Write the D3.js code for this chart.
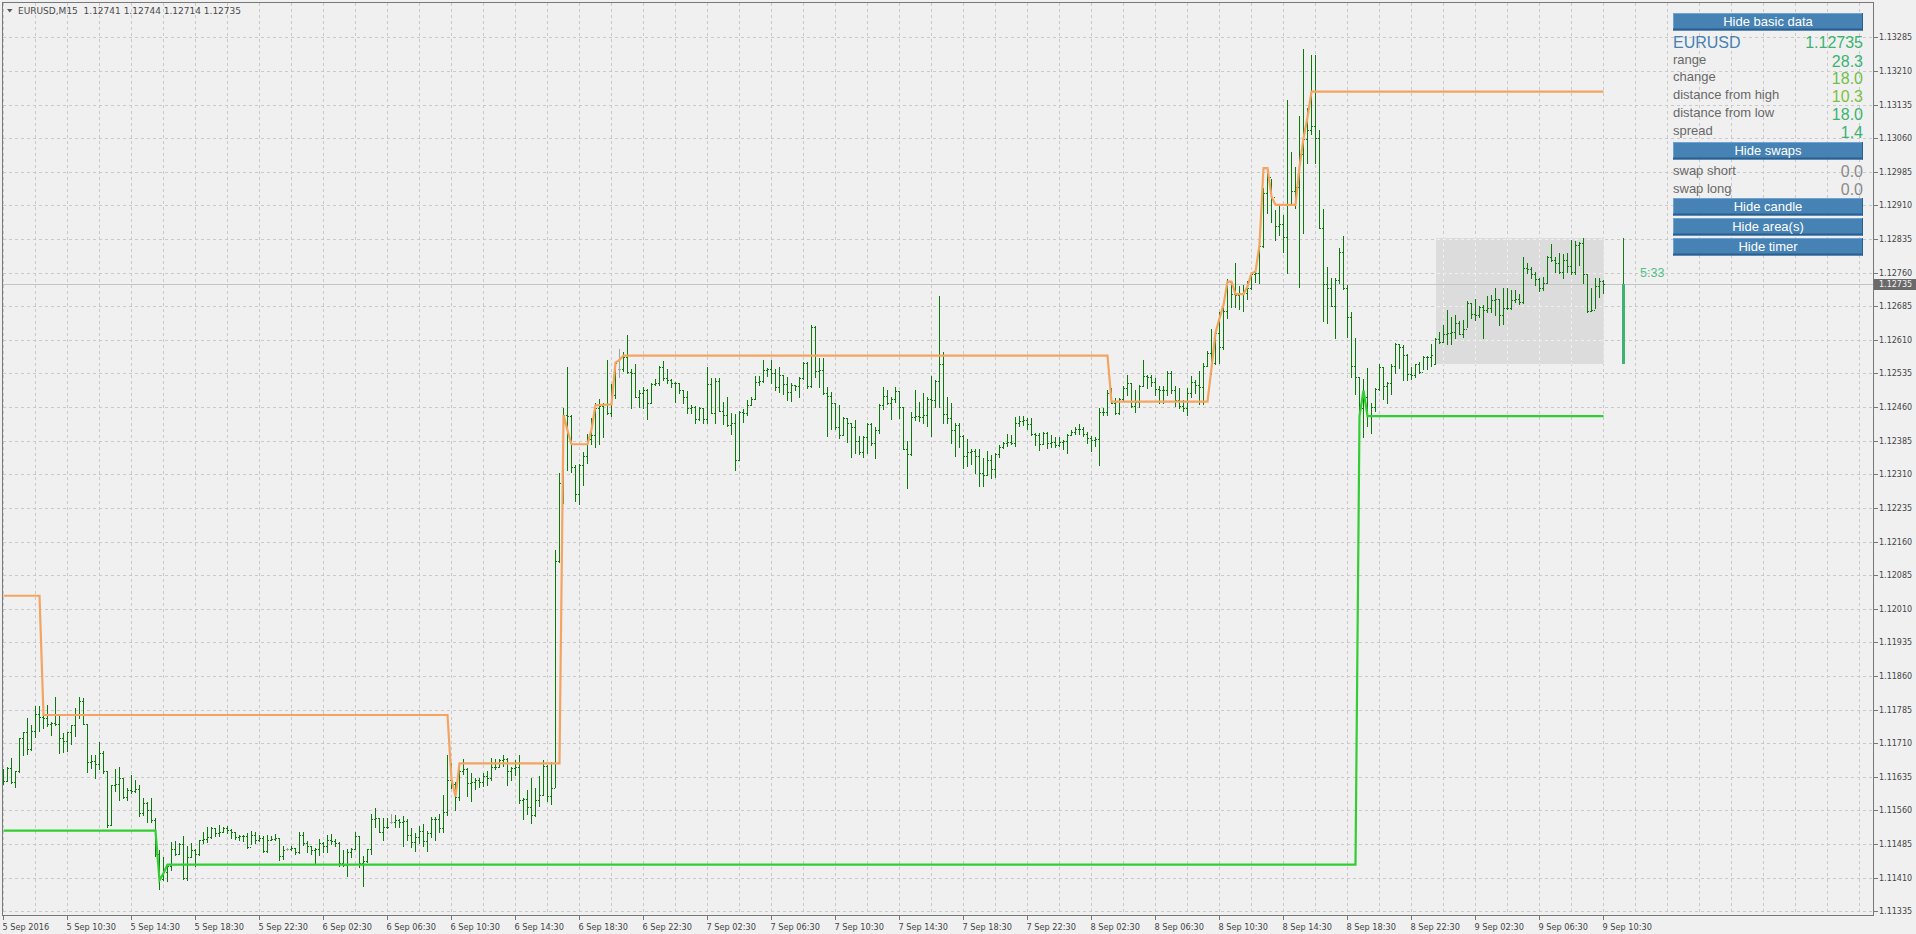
<!DOCTYPE html>
<html><head><meta charset="utf-8">
<script src="https://cdn.jsdelivr.net/npm/d3@7/dist/d3.min.js"></script>
<style>html,body{margin:0;padding:0;background:#f0f0f0;overflow:hidden}</style>
</head><body>
<svg id="chart" width="1916" height="934"></svg>
<script>
// ---------------- data ----------------
const symbolTitle = "EURUSD,M15  1.12741 1.12744 1.12714 1.12735";
const timeLabels = ["5 Sep 2016","5 Sep 10:30","5 Sep 14:30","5 Sep 18:30","5 Sep 22:30","6 Sep 02:30","6 Sep 06:30","6 Sep 10:30","6 Sep 14:30","6 Sep 18:30","6 Sep 22:30","7 Sep 02:30","7 Sep 06:30","7 Sep 10:30","7 Sep 14:30","7 Sep 18:30","7 Sep 22:30","8 Sep 02:30","8 Sep 06:30","8 Sep 10:30","8 Sep 14:30","8 Sep 18:30","8 Sep 22:30","9 Sep 02:30","9 Sep 06:30","9 Sep 10:30"];
const timeLabelBars = [0,16,32,48,64,80,96,112,128,144,160,176,192,208,224,240,256,272,288,304,320,336,352,368,384,400];
const priceTicks = [1.11335,1.11410,1.11485,1.11560,1.11635,1.11710,1.11785,1.11860,1.11935,1.12010,1.12085,1.12160,1.12235,1.12310,1.12385,1.12460,1.12535,1.12610,1.12685,1.12760,1.12835,1.12910,1.12985,1.13060,1.13135,1.13210,1.13285];

const barOpen = [
1.11640,1.11625,1.11654,1.11623,1.11647,1.11721,1.11735,1.11697,1.11737,1.11776,1.11768,1.11766,1.11754,1.11755,1.11752,1.11721,
1.11714,1.11734,1.11751,1.11773,1.11805,1.11752,1.11669,1.11671,1.11664,1.11688,1.11647,1.11528,1.11617,1.11620,1.11632,1.11590,
1.11606,1.11604,1.11608,1.11554,1.11576,1.11561,1.11538,1.11463,1.11407,1.11422,1.11435,1.11474,1.11463,1.11486,1.11409,1.11456,
1.11472,1.11463,1.11494,1.11496,1.11500,1.11520,1.11509,1.11511,1.11520,1.11517,1.11511,1.11500,1.11502,1.11503,1.11478,1.11506,
1.11493,1.11498,1.11470,1.11494,1.11496,1.11498,1.11459,1.11474,1.11474,1.11476,1.11468,1.11506,1.11487,1.11480,1.11472,1.11474,
1.11487,1.11480,1.11494,1.11491,1.11487,1.11442,1.11439,1.11468,1.11474,1.11502,1.11442,1.11448,1.11474,1.11541,1.11543,1.11513,
1.11522,1.11535,1.11535,1.11539,1.11535,1.11537,1.11505,1.11490,1.11500,1.11515,1.11492,1.11510,1.11540,1.11541,1.11520,1.11557,
1.11629,1.11620,1.11589,1.11649,1.11652,1.11621,1.11623,1.11628,1.11624,1.11637,1.11632,1.11656,1.11658,1.11673,1.11674,1.11647,
1.11654,1.11658,1.11583,1.11585,1.11567,1.11550,1.11583,1.11595,1.11659,1.11592,1.11609,1.12116,1.12291,1.12442,1.12441,1.12327,
1.12267,1.12331,1.12351,1.12388,1.12397,1.12459,1.12462,1.12467,1.12446,1.12487,1.12546,1.12546,1.12572,1.12539,1.12537,1.12482,
1.12491,1.12498,1.12470,1.12511,1.12513,1.12550,1.12524,1.12520,1.12513,1.12514,1.12498,1.12483,1.12459,1.12461,1.12433,1.12457,
1.12433,1.12511,1.12447,1.12519,1.12452,1.12442,1.12420,1.12424,1.12343,1.12450,1.12447,1.12465,1.12479,1.12517,1.12519,1.12543,
1.12544,1.12537,1.12504,1.12531,1.12511,1.12494,1.12509,1.12507,1.12524,1.12559,1.12507,1.12638,1.12541,1.12543,1.12492,1.12485,
1.12470,1.12415,1.12398,1.12435,1.12425,1.12416,1.12385,1.12360,1.12394,1.12422,1.12380,1.12409,1.12465,1.12485,1.12470,1.12477,
1.12496,1.12461,1.12366,1.12355,1.12437,1.12440,1.12438,1.12442,1.12479,1.12476,1.12519,1.12556,1.12444,1.12435,1.12409,1.12420,
1.12395,1.12351,1.12360,1.12363,1.12351,1.12312,1.12308,1.12342,1.12321,1.12355,1.12370,1.12380,1.12383,1.12380,1.12425,1.12430,
1.12432,1.12422,1.12400,1.12398,1.12378,1.12403,1.12380,1.12383,1.12375,1.12383,1.12385,1.12398,1.12405,1.12412,1.12410,1.12401,
1.12390,1.12386,1.12388,1.12450,1.12448,1.12491,1.12470,1.12446,1.12478,1.12502,1.12513,1.12463,1.12472,1.12507,1.12530,1.12528,
1.12517,1.12500,1.12498,1.12497,1.12537,1.12498,1.12476,1.12463,1.12457,1.12491,1.12517,1.12510,1.12504,1.12552,1.12580,1.12559,
1.12625,1.12594,1.12675,1.12740,1.12712,1.12710,1.12712,1.12715,1.12725,1.12757,1.12760,1.12820,1.12938,1.12973,1.12928,1.12864,
1.12869,1.12840,1.12911,1.12943,1.12952,1.13025,1.13057,1.13078,1.13087,1.13060,1.12859,1.12735,1.12725,1.12686,1.12744,1.12807,
1.12725,1.12662,1.12552,1.12528,1.12457,1.12483,1.12440,1.12461,1.12500,1.12549,1.12507,1.12513,1.12552,1.12601,1.12595,1.12576,
1.12533,1.12531,1.12556,1.12539,1.12571,1.12572,1.12555,1.12611,1.12606,1.12623,1.12626,1.12628,1.12648,1.12624,1.12635,1.12693,
1.12667,1.12665,1.12684,1.12676,1.12682,1.12699,1.12700,1.12665,1.12682,1.12680,1.12699,1.12700,1.12695,1.12771,1.12769,1.12757,
1.12745,1.12725,1.12737,1.12795,1.12789,1.12782,1.12762,1.12788,1.12774,1.12762,1.12821,1.12826,1.12758,1.12675,1.12676,1.12730,1.12741];

const barHigh = [
1.11652,1.11658,1.11677,1.11649,1.11721,1.11736,1.11766,1.11751,1.11792,1.11792,1.11773,1.11796,1.11758,1.11814,1.11773,1.11732,
1.11735,1.11751,1.11788,1.11814,1.11810,1.11752,1.11684,1.11684,1.11712,1.11692,1.11647,1.11617,1.11653,1.11658,1.11632,1.11610,
1.11639,1.11628,1.11617,1.11587,1.11578,1.11587,1.11543,1.11472,1.11456,1.11439,1.11489,1.11491,1.11487,1.11503,1.11480,1.11487,
1.11474,1.11494,1.11513,1.11524,1.11524,1.11520,1.11528,1.11524,1.11526,1.11518,1.11513,1.11506,1.11506,1.11509,1.11515,1.11511,
1.11506,1.11503,1.11506,1.11503,1.11508,1.11498,1.11480,1.11476,1.11481,1.11476,1.11513,1.11511,1.11491,1.11481,1.11476,1.11496,
1.11489,1.11506,1.11508,1.11496,1.11490,1.11472,1.11474,1.11476,1.11513,1.11503,1.11459,1.11475,1.11552,1.11565,1.11543,1.11543,
1.11543,1.11551,1.11550,1.11541,1.11548,1.11540,1.11520,1.11510,1.11525,1.11530,1.11515,1.11545,1.11546,1.11552,1.11595,1.11684,
1.11665,1.11624,1.11665,1.11674,1.11655,1.11643,1.11632,1.11632,1.11643,1.11647,1.11676,1.11674,1.11674,1.11684,1.11676,1.11658,
1.11673,1.11684,1.11587,1.11606,1.11632,1.11609,1.11637,1.11673,1.11661,1.11669,1.12141,1.12312,1.12459,1.12550,1.12442,1.12331,
1.12333,1.12360,1.12401,1.12435,1.12468,1.12477,1.12468,1.12566,1.12511,1.12561,1.12589,1.12583,1.12621,1.12544,1.12556,1.12498,
1.12504,1.12500,1.12514,1.12522,1.12551,1.12563,1.12546,1.12522,1.12517,1.12514,1.12498,1.12496,1.12465,1.12462,1.12461,1.12457,
1.12549,1.12524,1.12524,1.12524,1.12472,1.12482,1.12446,1.12444,1.12452,1.12455,1.12476,1.12482,1.12529,1.12529,1.12566,1.12548,
1.12566,1.12544,1.12550,1.12531,1.12526,1.12514,1.12509,1.12526,1.12561,1.12561,1.12643,1.12640,1.12569,1.12569,1.12505,1.12494,
1.12470,1.12465,1.12437,1.12435,1.12425,1.12431,1.12395,1.12395,1.12424,1.12424,1.12415,1.12467,1.12505,1.12499,1.12482,1.12504,
1.12496,1.12461,1.12385,1.12450,1.12499,1.12472,1.12491,1.12483,1.12529,1.12520,1.12708,1.12583,1.12482,1.12468,1.12424,1.12425,
1.12398,1.12388,1.12366,1.12366,1.12366,1.12346,1.12361,1.12353,1.12358,1.12375,1.12383,1.12401,1.12398,1.12438,1.12440,1.12440,
1.12435,1.12435,1.12403,1.12403,1.12405,1.12405,1.12398,1.12394,1.12394,1.12386,1.12401,1.12409,1.12416,1.12422,1.12415,1.12405,
1.12395,1.12394,1.12457,1.12457,1.12498,1.12502,1.12480,1.12480,1.12507,1.12532,1.12513,1.12498,1.12509,1.12565,1.12532,1.12532,
1.12524,1.12506,1.12506,1.12541,1.12541,1.12506,1.12502,1.12475,1.12502,1.12530,1.12521,1.12541,1.12559,1.12584,1.12634,1.12626,
1.12671,1.12688,1.12745,1.12740,1.12782,1.12730,1.12733,1.12742,1.12759,1.12762,1.12822,1.12948,1.12983,1.12968,1.12900,1.12909,
1.12889,1.13144,1.13028,1.12996,1.13109,1.13258,1.13127,1.13246,1.13246,1.13078,1.12901,1.12772,1.12747,1.12747,1.12814,1.12842,
1.12733,1.12671,1.12614,1.12528,1.12522,1.12547,1.12470,1.12502,1.12556,1.12550,1.12517,1.12556,1.12602,1.12601,1.12598,1.12578,
1.12550,1.12557,1.12561,1.12574,1.12574,1.12600,1.12613,1.12628,1.12643,1.12676,1.12660,1.12665,1.12652,1.12655,1.12697,1.12693,
1.12700,1.12685,1.12688,1.12707,1.12710,1.12725,1.12700,1.12725,1.12725,1.12722,1.12721,1.12712,1.12795,1.12782,1.12772,1.12762,
1.12747,1.12751,1.12797,1.12823,1.12795,1.12803,1.12801,1.12804,1.12832,1.12831,1.12829,1.12838,1.12758,1.12725,1.12749,1.12747,1.12744];

const barLow = [
1.11619,1.11625,1.11622,1.11613,1.11645,1.11683,1.11686,1.11695,1.11723,1.11738,1.11743,1.11749,1.11729,1.11751,1.11689,1.11690,
1.11692,1.11709,1.11727,1.11766,1.11752,1.11645,1.11654,1.11632,1.11652,1.11643,1.11524,1.11527,1.11603,1.11584,1.11587,1.11584,
1.11599,1.11602,1.11547,1.11550,1.11535,1.11534,1.11459,1.11384,1.11405,1.11402,1.11428,1.11461,1.11463,1.11407,1.11404,1.11457,
1.11435,1.11461,1.11487,1.11489,1.11498,1.11503,1.11502,1.11511,1.11509,1.11498,1.11496,1.11494,1.11491,1.11476,1.11486,1.11487,
1.11491,1.11468,1.11468,1.11493,1.11493,1.11450,1.11451,1.11472,1.11471,1.11463,1.11465,1.11483,1.11468,1.11463,1.11442,1.11461,
1.11468,1.11468,1.11486,1.11480,1.11436,1.11435,1.11414,1.11457,1.11474,1.11434,1.11392,1.11446,1.11463,1.11524,1.11511,1.11495,
1.11520,1.11531,1.11522,1.11522,1.11480,1.11495,1.11478,1.11470,1.11488,1.11480,1.11470,1.11500,1.11494,1.11513,1.11513,1.11550,
1.11610,1.11561,1.11583,1.11641,1.11592,1.11582,1.11607,1.11612,1.11615,1.11617,1.11629,1.11652,1.11656,1.11659,1.11617,1.11628,
1.11640,1.11577,1.11541,1.11552,1.11533,1.11548,1.11570,1.11595,1.11580,1.11574,1.11613,1.12115,1.12245,1.12319,1.12316,1.12251,
1.12244,1.12286,1.12336,1.12377,1.12370,1.12377,1.12394,1.12444,1.12440,1.12480,1.12528,1.12540,1.12535,1.12457,1.12482,1.12461,
1.12457,1.12433,1.12470,1.12509,1.12509,1.12520,1.12514,1.12505,1.12472,1.12492,1.12468,1.12447,1.12447,1.12424,1.12431,1.12425,
1.12425,1.12446,1.12425,1.12452,1.12422,1.12418,1.12401,1.12320,1.12342,1.12427,1.12442,1.12465,1.12479,1.12509,1.12517,1.12529,
1.12514,1.12499,1.12494,1.12489,1.12476,1.12474,1.12498,1.12483,1.12522,1.12502,1.12504,1.12526,1.12505,1.12489,1.12395,1.12410,
1.12412,1.12392,1.12398,1.12383,1.12349,1.12358,1.12355,1.12349,1.12358,1.12375,1.12346,1.12403,1.12455,1.12467,1.12433,1.12472,
1.12435,1.12366,1.12279,1.12353,1.12432,1.12430,1.12425,1.12418,1.12395,1.12461,1.12461,1.12425,1.12425,1.12380,1.12351,1.12370,
1.12325,1.12328,1.12333,1.12312,1.12284,1.12284,1.12308,1.12301,1.12303,1.12349,1.12368,1.12373,1.12378,1.12373,1.12418,1.12420,
1.12410,1.12398,1.12375,1.12364,1.12378,1.12368,1.12370,1.12372,1.12373,1.12366,1.12358,1.12398,1.12401,1.12400,1.12395,1.12380,
1.12363,1.12373,1.12331,1.12443,1.12443,1.12469,1.12445,1.12444,1.12476,1.12487,1.12460,1.12448,1.12461,1.12506,1.12502,1.12506,
1.12487,1.12469,1.12469,1.12487,1.12491,1.12463,1.12457,1.12452,1.12443,1.12482,1.12491,1.12467,1.12467,1.12552,1.12534,1.12556,
1.12559,1.12590,1.12658,1.12684,1.12684,1.12678,1.12675,1.12701,1.12723,1.12738,1.12736,1.12818,1.12894,1.12874,1.12833,1.12844,
1.12807,1.12760,1.12911,1.12904,1.12727,1.12849,1.13004,1.13070,1.13005,1.12859,1.12651,1.12648,1.12685,1.12614,1.12736,1.12723,
1.12616,1.12528,1.12489,1.12443,1.12394,1.12417,1.12403,1.12452,1.12498,1.12478,1.12470,1.12489,1.12536,1.12547,1.12520,1.12520,
1.12522,1.12528,1.12537,1.12546,1.12544,1.12551,1.12555,1.12603,1.12606,1.12600,1.12600,1.12615,1.12624,1.12617,1.12638,1.12658,
1.12655,1.12662,1.12613,1.12673,1.12673,1.12665,1.12643,1.12645,1.12678,1.12678,1.12695,1.12690,1.12693,1.12760,1.12747,1.12732,
1.12719,1.12721,1.12736,1.12786,1.12762,1.12760,1.12747,1.12762,1.12758,1.12758,1.12777,1.12737,1.12673,1.12675,1.12680,1.12705,1.12714];

const barClose = [
1.11625,1.11654,1.11623,1.11647,1.11721,1.11735,1.11697,1.11737,1.11776,1.11768,1.11766,1.11754,1.11755,1.11752,1.11721,1.11714,
1.11734,1.11751,1.11773,1.11805,1.11752,1.11669,1.11671,1.11664,1.11688,1.11647,1.11528,1.11617,1.11620,1.11632,1.11590,1.11606,
1.11604,1.11608,1.11554,1.11576,1.11561,1.11538,1.11463,1.11407,1.11422,1.11435,1.11474,1.11463,1.11486,1.11409,1.11456,1.11472,
1.11463,1.11494,1.11496,1.11500,1.11520,1.11509,1.11511,1.11520,1.11517,1.11511,1.11500,1.11502,1.11503,1.11478,1.11506,1.11493,
1.11498,1.11470,1.11494,1.11496,1.11498,1.11459,1.11472,1.11474,1.11476,1.11468,1.11506,1.11487,1.11480,1.11472,1.11474,1.11487,
1.11480,1.11494,1.11491,1.11487,1.11442,1.11439,1.11468,1.11474,1.11502,1.11442,1.11448,1.11474,1.11541,1.11543,1.11513,1.11522,
1.11524,1.11535,1.11539,1.11535,1.11537,1.11505,1.11490,1.11500,1.11515,1.11492,1.11510,1.11540,1.11541,1.11520,1.11557,1.11629,
1.11620,1.11589,1.11649,1.11652,1.11621,1.11623,1.11628,1.11624,1.11637,1.11632,1.11656,1.11658,1.11673,1.11674,1.11647,1.11654,
1.11658,1.11583,1.11585,1.11567,1.11550,1.11583,1.11595,1.11659,1.11592,1.11609,1.12116,1.12291,1.12442,1.12441,1.12327,1.12267,
1.12331,1.12351,1.12388,1.12397,1.12459,1.12462,1.12467,1.12446,1.12487,1.12559,1.12546,1.12572,1.12539,1.12537,1.12482,1.12491,
1.12498,1.12470,1.12511,1.12513,1.12550,1.12524,1.12520,1.12513,1.12514,1.12498,1.12483,1.12459,1.12461,1.12433,1.12457,1.12433,
1.12511,1.12447,1.12519,1.12452,1.12442,1.12420,1.12424,1.12343,1.12450,1.12447,1.12465,1.12479,1.12517,1.12519,1.12543,1.12544,
1.12537,1.12504,1.12531,1.12511,1.12494,1.12509,1.12507,1.12524,1.12559,1.12507,1.12638,1.12541,1.12543,1.12492,1.12485,1.12470,
1.12415,1.12398,1.12435,1.12425,1.12416,1.12385,1.12360,1.12394,1.12422,1.12380,1.12409,1.12465,1.12485,1.12470,1.12477,1.12496,
1.12461,1.12366,1.12355,1.12437,1.12440,1.12438,1.12442,1.12479,1.12476,1.12519,1.12556,1.12444,1.12435,1.12409,1.12420,1.12395,
1.12351,1.12360,1.12363,1.12351,1.12312,1.12308,1.12342,1.12321,1.12355,1.12370,1.12380,1.12383,1.12380,1.12425,1.12430,1.12432,
1.12422,1.12400,1.12398,1.12378,1.12403,1.12380,1.12383,1.12375,1.12383,1.12385,1.12398,1.12405,1.12412,1.12410,1.12401,1.12390,
1.12386,1.12388,1.12450,1.12448,1.12491,1.12470,1.12446,1.12478,1.12502,1.12513,1.12463,1.12472,1.12507,1.12530,1.12528,1.12517,
1.12500,1.12498,1.12497,1.12537,1.12498,1.12476,1.12463,1.12457,1.12491,1.12517,1.12510,1.12504,1.12552,1.12580,1.12559,1.12625,
1.12594,1.12675,1.12740,1.12712,1.12710,1.12712,1.12715,1.12725,1.12757,1.12760,1.12820,1.12938,1.12973,1.12928,1.12864,1.12869,
1.12840,1.12911,1.12943,1.12952,1.13025,1.13057,1.13078,1.13087,1.13060,1.12859,1.12735,1.12725,1.12686,1.12744,1.12807,1.12725,
1.12662,1.12552,1.12528,1.12457,1.12483,1.12440,1.12461,1.12500,1.12549,1.12507,1.12513,1.12552,1.12601,1.12595,1.12576,1.12533,
1.12531,1.12556,1.12539,1.12571,1.12572,1.12576,1.12611,1.12606,1.12623,1.12626,1.12628,1.12648,1.12624,1.12635,1.12693,1.12667,
1.12665,1.12684,1.12676,1.12682,1.12699,1.12700,1.12665,1.12682,1.12680,1.12699,1.12700,1.12695,1.12771,1.12769,1.12757,1.12745,
1.12725,1.12737,1.12795,1.12789,1.12782,1.12762,1.12788,1.12774,1.12762,1.12821,1.12826,1.12758,1.12675,1.12676,1.12730,1.12742,1.12735];

// upper (orange) and lower (green) indicator lines: bar index -> price
const upperBars = [0,9,10,111,112,113,114,139,140,141,142,146,147,148,152,153,154,155,276,277,301,302,303,304,305,306,307,308,310,311,312,313,314,315,316,317,318,323,324,325,326,327,400];
const upperVals = [1.12039,1.12039,1.11773,1.11773,1.11630,1.11591,1.11665,1.11665,1.12442,1.12408,1.12377,1.12377,1.12410,1.12464,1.12466,1.12559,1.12565,1.12575,1.12575,1.12472,1.12472,1.12547,1.12626,1.12658,1.12688,1.12740,1.12740,1.12712,1.12712,1.12729,1.12759,1.12762,1.12822,1.12993,1.12993,1.12930,1.12911,1.12911,1.12996,1.13060,1.13106,1.13164,1.13164];
const lowerBars = [0,38,39,40,41,338,339,340,341,400];
const lowerVals = [1.11515,1.11515,1.11404,1.11420,1.11439,1.11439,1.12440,1.12497,1.12440,1.12440];

const bidPrice = 1.12735;
const dayCandle = {open:1.12555, high:1.12838, low:1.12555, close:1.12735};
const areaFromBar = 358, areaToBar = 400, candleBar = 405;
const timerText = "5:33";

const panelSymbol = "EURUSD", panelPrice = "1.12735";
const basicLabels = ["range","change","distance from high","distance from low","spread"];
const basicValues = ["28.3","18.0","10.3","18.0","1.4"];
const swapLabels = ["swap short","swap long"];
const swapValues = ["0.0","0.0"];
const buttonLabels = ["Hide basic data","Hide swaps","Hide candle","Hide area(s)","Hide timer"];

// ---------------- drawing ----------------
const svg = d3.select("#chart");
const FONT = "'DejaVu Sans', Verdana, sans-serif";
const PFONT = "'Liberation Sans', Arial, sans-serif";
const frame = {l:2.5, t:2.5, r:1873.5, b:915.5};

const x = d3.scaleLinear().domain([0, 405]).range([3.5, 1623.5]);
const y = d3.scaleLinear().domain([1.11335, 1.13285]).range([911.3, 37.3]);
const ry = v => Math.round(y(v)) + 0.5;

svg.append("rect").attr("width",1916).attr("height",934).attr("fill","#f0f0f0");

// grid
function drawGrid(g, color) {
  const vIdx = d3.range(0, 470, 8).filter(i => x(i) < frame.r - 1);
  g.selectAll("line.v").data(vIdx).join("line").attr("class","v")
    .attr("x1", i => x(i)).attr("x2", i => x(i)).attr("y1", 3).attr("y2", 915)
    .attr("stroke", color).attr("stroke-dasharray","3,3");
  g.selectAll("line.h").data(priceTicks).join("line").attr("class","h")
    .attr("x1", 3).attr("x2", frame.r - 0.5).attr("y1", d => ry(d)).attr("y2", d => ry(d))
    .attr("stroke", color).attr("stroke-dasharray","3,3");
}
drawGrid(svg.append("g").attr("shape-rendering","crispEdges"), "#c9c9c9");

// area (today's range)
const ax0 = x(areaFromBar), ax1 = x(areaToBar);
const ay0 = y(dayCandle.high), ay1 = y(dayCandle.low);
svg.append("rect").attr("x", ax0).attr("y", ay0).attr("width", ax1 - ax0).attr("height", ay1 - ay0)
  .attr("fill", "#dcdcdc").attr("shape-rendering","crispEdges");
svg.append("clipPath").attr("id","areaClip").append("rect")
  .attr("x", ax0).attr("y", ay0).attr("width", ax1 - ax0).attr("height", ay1 - ay0);
drawGrid(svg.append("g").attr("clip-path","url(#areaClip)").attr("shape-rendering","crispEdges"), "#efefef");

// bid line
svg.append("line").attr("x1",3).attr("x2",frame.r-0.5).attr("y1", ry(bidPrice)).attr("y2", ry(bidPrice))
  .attr("stroke","#c4c4c4").attr("shape-rendering","crispEdges");

// bars
const idx = d3.range(barClose.length);
const isDoji = i => Math.abs(barOpen[i] - barClose[i]) < 1e-7;
const barColor = i => isDoji(i) ? "#a0a0a0" : "#0a7a0a";
const gb = svg.append("g").attr("shape-rendering","crispEdges");
gb.selectAll("rect.hl").data(idx).join("rect").attr("class","hl")
  .attr("x", i => x(i) - 0.5).attr("width", 1)
  .attr("y", i => Math.round(y(barHigh[i])))
  .attr("height", i => Math.max(1, Math.round(y(barLow[i])) - Math.round(y(barHigh[i])) + 1))
  .attr("fill", barColor);
gb.selectAll("rect.o").data(idx).join("rect").attr("class","o")
  .attr("x", i => x(i) - 1.5).attr("width", 1).attr("y", i => Math.round(y(barOpen[i]))).attr("height", 1)
  .attr("fill", barColor);
gb.selectAll("rect.c").data(idx).join("rect").attr("class","c")
  .attr("x", i => x(i) + 0.5).attr("width", 1).attr("y", i => Math.round(y(barClose[i]))).attr("height", 1)
  .attr("fill", barColor);

// indicator lines
const lineGen = d3.line().x(d => x(d[0])).y(d => y(d[1]));
svg.append("path").datum(upperBars.map((b,k) => [b, upperVals[k]]))
  .attr("d", lineGen).attr("fill","none").attr("stroke","#f4a460").attr("stroke-width",2.2)
  .attr("stroke-linejoin","miter");
svg.append("path").datum(lowerBars.map((b,k) => [b, lowerVals[k]]))
  .attr("d", lineGen).attr("fill","none").attr("stroke","#32cd32").attr("stroke-width",2.2)
  .attr("stroke-linejoin","miter");

// day candle
const cx = x(candleBar);
svg.append("line").attr("x1", cx).attr("x2", cx).attr("y1", y(dayCandle.high)).attr("y2", y(dayCandle.close))
  .attr("stroke","#1a7a1a").attr("stroke-width",1).attr("shape-rendering","crispEdges");
svg.append("rect").attr("x", cx - 1.5).attr("width", 3)
  .attr("y", y(dayCandle.close)).attr("height", y(dayCandle.open) - y(dayCandle.close))
  .attr("fill","#3cb371").attr("shape-rendering","crispEdges");

// timer
svg.append("text").attr("x", 1640).attr("y", 277).text(timerText)
  .attr("font-family", PFONT).attr("font-size", 12.5).attr("fill", "#4fbf86");

// frame
svg.append("rect").attr("x", frame.l).attr("y", frame.t).attr("width", frame.r - frame.l).attr("height", frame.b - frame.t)
  .attr("fill","none").attr("stroke","#787878").attr("shape-rendering","crispEdges");

// price axis
const gp = svg.append("g");
gp.selectAll("line").data(priceTicks).join("line")
  .attr("x1", frame.r).attr("x2", frame.r + 4).attr("y1", d => ry(d)).attr("y2", d => ry(d))
  .attr("stroke","#787878").attr("shape-rendering","crispEdges");
gp.selectAll("text").data(priceTicks).join("text")
  .attr("x", 1879).attr("y", d => y(d) + 3).text(d => d.toFixed(5))
  .attr("font-family", FONT).attr("font-size", 8).attr("fill", "#444");
// current price tag
svg.append("rect").attr("x", frame.r + 0.5).attr("y", Math.round(y(bidPrice)) - 5).attr("width", 1916 - frame.r).attr("height", 11)
  .attr("fill","#6a6a6a").attr("shape-rendering","crispEdges");
svg.append("text").attr("x", 1879).attr("y", y(bidPrice) + 3.5).text(bidPrice.toFixed(5))
  .attr("font-family", FONT).attr("font-size", 8).attr("fill", "#f4f4f4");

// time axis
const gt = svg.append("g");
gt.selectAll("line").data(timeLabelBars).join("line")
  .attr("x1", i => x(i)).attr("x2", i => x(i)).attr("y1", frame.b).attr("y2", frame.b + 4)
  .attr("stroke","#787878").attr("shape-rendering","crispEdges");
gt.selectAll("text").data(timeLabelBars).join("text")
  .attr("x", i => x(i) - 1).attr("y", 930).text((i,k) => timeLabels[k])
  .attr("font-family", FONT).attr("font-size", 8.2).attr("fill", "#444");

// title
svg.append("path").attr("d","M7,9 L12.5,9 L9.75,12.5 Z").attr("fill","#555");
svg.append("text").attr("x", 18).attr("y", 14).text(symbolTitle)
  .attr("font-family", FONT).attr("font-size", 9).attr("fill", "#4a4a4a")
  .style("white-space","pre");

// panel
const PX0 = 1673, PX1 = 1863;
function button(label, top) {
  const h = 17.5;
  svg.append("rect").attr("x", PX0).attr("y", top).attr("width", PX1 - PX0).attr("height", h).attr("fill","#4682b4");
  svg.append("rect").attr("x", PX0).attr("y", top).attr("width", PX1 - PX0).attr("height", 1).attr("fill","#6fa3d6");
  svg.append("rect").attr("x", PX0).attr("y", top).attr("width", 1).attr("height", h).attr("fill","#6fa3d6");
  svg.append("rect").attr("x", PX0).attr("y", top + h - 2).attr("width", PX1 - PX0).attr("height", 2).attr("fill","#2b5f8f");
  svg.append("rect").attr("x", PX1 - 1).attr("y", top).attr("width", 1).attr("height", h).attr("fill","#2b5f8f");
  svg.append("text").attr("x", (PX0 + PX1) / 2).attr("y", top + 13).attr("text-anchor","middle").text(label)
    .attr("font-family", PFONT).attr("font-size", 13).attr("fill", "#ffffff");
}
const buttonTops = [13, 142, 198, 218, 238];
buttonLabels.forEach((b,k) => button(b, buttonTops[k]));

svg.append("text").attr("x", PX0).attr("y", 48).text(panelSymbol)
  .attr("font-family", PFONT).attr("font-size", 16).attr("fill", "#4682b4");
svg.append("text").attr("x", PX1).attr("y", 48).attr("text-anchor","end").text(panelPrice)
  .attr("font-family", PFONT).attr("font-size", 16).attr("fill", "#3cb371");
const valueColors = ["#3cb371","#6fbf4a","#7cc044","#3cb371","#3cb371"];
basicLabels.forEach((lab,k) => {
  const base = 63.5 + k * 17.8;
  svg.append("text").attr("x", PX0).attr("y", base).text(lab)
    .attr("font-family", PFONT).attr("font-size", 13).attr("fill", "#686868");
  svg.append("text").attr("x", PX1).attr("y", base + 3).attr("text-anchor","end").text(basicValues[k])
    .attr("font-family", PFONT).attr("font-size", 16).attr("fill", valueColors[k]);
});
swapLabels.forEach((lab,k) => {
  const base = 175 + k * 18;
  svg.append("text").attr("x", PX0).attr("y", base).text(lab)
    .attr("font-family", PFONT).attr("font-size", 13).attr("fill", "#686868");
  svg.append("text").attr("x", PX1).attr("y", base + 1.5).attr("text-anchor","end").text(swapValues[k])
    .attr("font-family", PFONT).attr("font-size", 16).attr("fill", "#8a8a8a");
});
</script>
</body></html>
